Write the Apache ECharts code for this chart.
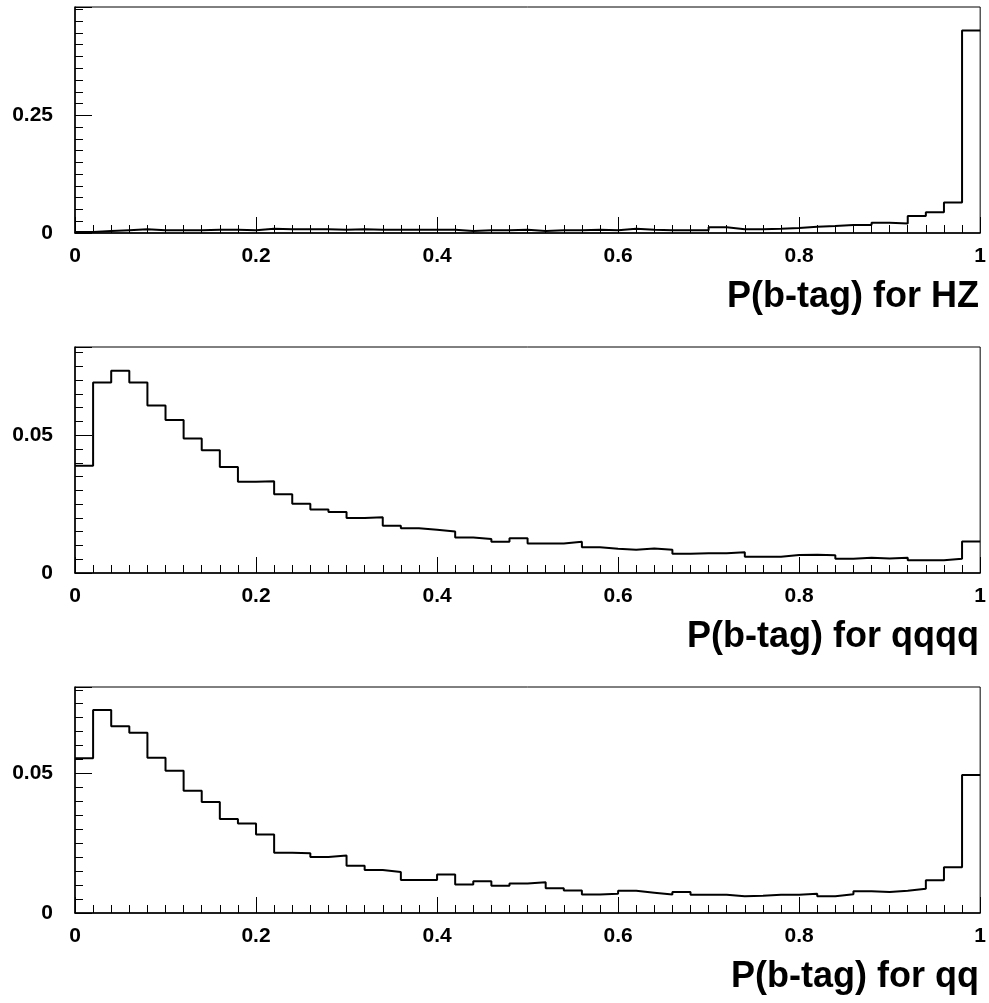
<!DOCTYPE html>
<html>
<head>
<meta charset="utf-8">
<script src="https://cdn.jsdelivr.net/npm/echarts@6/dist/echarts.min.js"></script>
<style>
html,body{margin:0;padding:0;background:#fff;}
#chart{width:989px;height:1003px;}
</style>
</head>
<body>
<div id="chart"></div>
<script>
// Histogram binning: 50 bins from 0 to 1
const X_MIN = 0, X_MAX = 1, N_BINS = 50;
const xTickLabels = ['0', '0.2', '0.4', '0.6', '0.8', '1'];

const titles = ['P(b-tag) for HZ', 'P(b-tag) for qqqq', 'P(b-tag) for qq'];

const hzValues = [
  0.002, 0.004, 0.006, 0.008, 0.006, 0.006, 0.006, 0.007, 0.007, 0.006,
  0.009, 0.008, 0.008, 0.008, 0.007, 0.008, 0.007, 0.007, 0.007, 0.007,
  0.007, 0.004, 0.006, 0.006, 0.007, 0.004, 0.006, 0.006, 0.007, 0.006,
  0.009, 0.007, 0.006, 0.006, 0.006, 0.012, 0.008, 0.008, 0.009, 0.0106,
  0.0134, 0.015, 0.017, 0.017, 0.022, 0.020, 0.036, 0.044, 0.065, 0.430
];
const qqqqValues = [
  0.0389, 0.0691, 0.0734, 0.0691, 0.0608, 0.0555, 0.0488, 0.0445, 0.0385, 0.0331,
  0.0333, 0.0286, 0.0251, 0.0230, 0.0221, 0.0200, 0.0202, 0.0171, 0.0162, 0.0157,
  0.0151, 0.0129, 0.0123, 0.0113, 0.0126, 0.0107, 0.0107, 0.0113, 0.0093, 0.0088,
  0.0084, 0.0089, 0.0084, 0.0070, 0.0072, 0.0072, 0.0075, 0.0059, 0.0059, 0.0065,
  0.0066, 0.0064, 0.0052, 0.0055, 0.0053, 0.0055, 0.0046, 0.0046, 0.0052, 0.0114
];
const qqValues = [
  0.0555, 0.0728, 0.0669, 0.0646, 0.0556, 0.0510, 0.0438, 0.0398, 0.0337, 0.0321,
  0.0281, 0.0216, 0.0214, 0.0201, 0.0206, 0.0169, 0.0154, 0.0147, 0.0118, 0.0118,
  0.0138, 0.0102, 0.0114, 0.0098, 0.0106, 0.0110, 0.0089, 0.0081, 0.0066, 0.0069,
  0.0080, 0.0073, 0.0066, 0.0075, 0.0065, 0.0065, 0.0060, 0.0062, 0.0065, 0.0065,
  0.0069, 0.0060, 0.0067, 0.0078, 0.0075, 0.0080, 0.0087, 0.0117, 0.0164, 0.0495
];

// y-axis ranges and tick steps per panel
const yMaxes = [0.48, 0.082, 0.081];
const yMajor = [0.25, 0.05, 0.05];
const yMinor = [0.025, 0.005, 0.005];

const panels = [hzValues, qqqqValues, qqValues];

const FONT = '"Liberation Sans", Arial, Helvetica, sans-serif';
const gridTops = [7, 347, 687];
const gridH = 226;

function stepData(vals) {
  const w = (X_MAX - X_MIN) / N_BINS;
  const d = vals.map((v, i) => [X_MIN + i * w, v]);
  d.push([X_MAX, vals[vals.length - 1]]);
  return d;
}

const grid = [], xAxis = [], yAxis = [], series = [], graphic = [];
panels.forEach((vals, p) => {
  grid.push({
    left: 75, right: 8, top: gridTops[p], height: gridH,
    show: true, borderColor: '#000', borderWidth: 1, backgroundColor: 'transparent'
  });
  xAxis.push({
    type: 'value', gridIndex: p, min: X_MIN, max: X_MAX, interval: 0.2,
    axisLine: { show: true, onZero: false, lineStyle: { color: '#000', width: 1.5 } },
    axisTick: { show: true, inside: true, length: 16, lineStyle: { color: '#000', width: 1 } },
    minorTick: { show: true, splitNumber: 10, length: 8, lineStyle: { color: '#000', width: 1 } },
    splitLine: { show: false },
    axisLabel: {
      margin: 13, color: '#000', fontFamily: FONT, fontWeight: 'bold', fontSize: 21,
      formatter: (v) => {
        const idx = Math.round(v / 0.2);
        return xTickLabels[idx] !== undefined ? xTickLabels[idx] : '';
      }
    }
  });
  // major y axis (labels, long ticks)
  yAxis.push({
    type: 'value', gridIndex: p, position: 'left', min: 0, max: yMaxes[p], interval: yMajor[p],
    axisLine: { show: true, lineStyle: { color: '#000', width: 1.5 } },
    axisTick: { show: true, inside: true, length: 17, lineStyle: { color: '#000', width: 1 } },
    splitLine: { show: false },
    axisLabel: {
      margin: 22, color: '#000', fontFamily: FONT, fontWeight: 'bold', fontSize: 21,
      formatter: (v) => {
        const r = v / yMajor[p];
        if (Math.abs(r - Math.round(r)) > 1e-6) return '';
        return v === 0 ? '0' : String(+v.toFixed(3));
      }
    }
  });
  // minor y axis (short ticks only)
  yAxis.push({
    type: 'value', gridIndex: p, position: 'left', offset: 0, min: 0, max: yMaxes[p], interval: yMinor[p],
    axisLine: { show: false },
    axisTick: { show: true, inside: true, length: 8, lineStyle: { color: '#000', width: 1 } },
    splitLine: { show: false },
    axisLabel: { show: false }
  });
  series.push({
    type: 'line', xAxisIndex: p, yAxisIndex: p * 2, step: 'end',
    data: stepData(vals), showSymbol: false, symbol: 'none', clip: true,
    lineStyle: { color: '#000', width: 2 }, silent: true, animation: false
  });
  graphic.push({
    type: 'text', right: 10, top: gridTops[p] + gridH + 46,
    style: {
      text: titles[p], fill: '#000',
      font: 'bold 36px ' + FONT
    }
  });
});

const chart = echarts.init(document.getElementById('chart'), null, { renderer: 'canvas' });
chart.setOption({
  animation: false,
  backgroundColor: '#fff',
  grid, xAxis, yAxis, series, graphic
});
</script>
</body>
</html>
